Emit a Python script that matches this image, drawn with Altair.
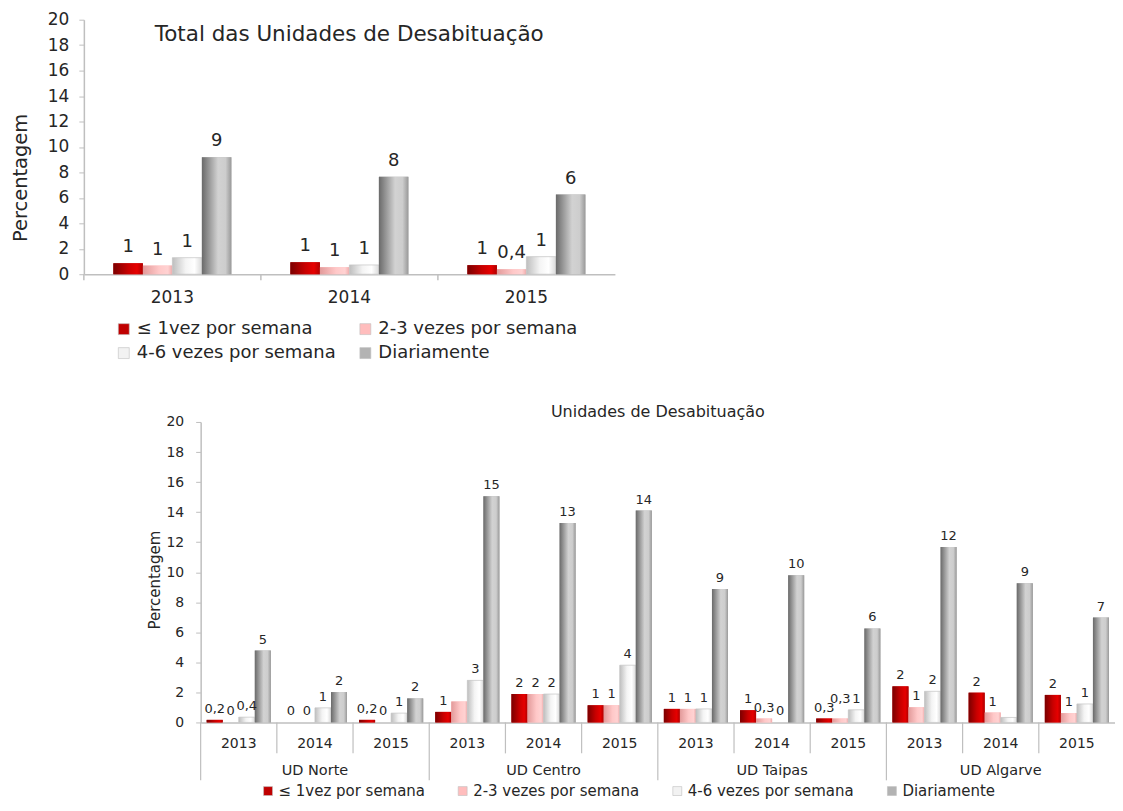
import altair as alt
import pandas as pd

series = ["≤ 1vez por semana", "2-3 vezes por semana", "4-6 vezes por semana", "Diariamente"]
years = ["2013", "2014", "2015"]
uds = ["UD Norte", "UD Centro", "UD Taipas", "UD Algarve"]

# Total das Unidades de Desabituação (2013, 2014, 2015)
tot_le1 = [0.86, 0.94, 0.71]
tot_23 = [0.68, 0.55, 0.39]
tot_46 = [1.30, 0.73, 1.38]
tot_dia = [9.20, 7.65, 6.26]
tot_le1_lbl = ["1", "1", "1"]
tot_23_lbl = ["1", "1", "0,4"]
tot_46_lbl = ["1", "1", "1"]
tot_dia_lbl = ["9", "8", "6"]

# Per UD: Norte 2013-2015, Centro 2013-2015, Taipas 2013-2015, Algarve 2013-2015
ud_le1 = [0.17, 0.0, 0.17, 0.70, 1.89, 1.14, 0.90, 0.81, 0.26, 2.40, 1.98, 1.83]
ud_23 = [0.0, 0.0, 0.0, 1.39, 1.89, 1.14, 0.90, 0.26, 0.26, 1.01, 0.66, 0.62]
ud_46 = [0.35, 0.97, 0.62, 2.80, 1.89, 3.81, 0.90, 0.0, 0.84, 2.07, 0.33, 1.23]
ud_dia = [4.78, 2.02, 1.60, 15.05, 13.27, 14.10, 8.88, 9.79, 6.26, 11.68, 9.26, 6.98]
ud_le1_lbl = ["0,2", "0", "0,2", "1", "2", "1", "1", "1", "0,3", "2", "2", "2"]
ud_23_lbl = ["0", "0", "0", "", "2", "1", "1", "0,3", "0,3", "1", "1", "1"]
ud_46_lbl = ["0,4", "1", "1", "3", "2", "4", "1", "0", "1", "2", "", "1"]
ud_dia_lbl = ["5", "2", "2", "15", "13", "14", "9", "10", "6", "12", "9", "7"]

top_title = "Total das Unidades de Desabituação"
bottom_title = "Unidades de Desabituação"
y_title = "Percentagem"

FONT = "DejaVu Sans"
TXT = "#262626"
AXC = "#BFBFBF"
solid = ["#C00000", "#FFBDBD", "#F2F2F2", "#B3B3B3"]
grad_stops = [
    [(0, "#7A0000"), (0.5, "#C80000"), (0.8, "#E60000"), (1, "#B00000")],
    [(0, "#E29A9A"), (0.55, "#FFC8C8"), (0.85, "#FFD2D2"), (1, "#F0AAAA")],
    [(0, "#BEBEBE"), (0.45, "#F4F4F4"), (0.75, "#FFFFFF"), (1, "#DADADA")],
    [(0, "#6A6A6A"), (0.55, "#D2D2D2"), (0.8, "#CDCDCD"), (1, "#999999")],
]


def gradient(stops):
    return alt.LinearGradient(
        gradient="linear", x1=0, x2=1, y1=0, y2=0,
        stops=[alt.GradientStop(offset=o, color=c) for o, c in stops],
    )


# ---------------- data tables ----------------
top_vals = [tot_le1, tot_23, tot_46, tot_dia]
top_lbls = [tot_le1_lbl, tot_23_lbl, tot_46_lbl, tot_dia_lbl]
rows = []
for si, s in enumerate(series):
    for yi, yr in enumerate(years):
        rows.append({"year": yr, "series": s, "value": top_vals[si][yi], "label": top_lbls[si][yi]})
top_df = pd.DataFrame(rows)
years_df = pd.DataFrame({"year": years})

keys = [f"{u}|{yr}" for u in uds for yr in years]
ud_vals = [ud_le1, ud_23, ud_46, ud_dia]
ud_lbls = [ud_le1_lbl, ud_23_lbl, ud_46_lbl, ud_dia_lbl]
rows = []
for si, s in enumerate(series):
    for ui, u in enumerate(uds):
        for yi, yr in enumerate(years):
            k = ui * 3 + yi
            rows.append({"key": f"{u}|{yr}", "ud": u, "year": yr, "series": s,
                         "value": ud_vals[si][k], "label": ud_lbls[si][k]})
ud_df = pd.DataFrame(rows)
sep_df = pd.DataFrame({"key": keys, "year": [k.split("|")[1] for k in keys]})
udname_df = pd.DataFrame({"key": [f"{u}|2014" for u in uds], "ud": uds})

# ---------------- top chart ----------------
W1, H1 = 532, 255
sx1 = alt.Scale(domain=years, paddingInner=0, paddingOuter=0)
x1_axis = alt.Axis(title=None, labelAngle=0, labelFontSize=17, labelPadding=15, ticks=False,
                   tickSize=0, domainColor=AXC, domainWidth=1.5, labelColor=TXT)
x1 = alt.X("year:N", sort=years, scale=sx1, axis=x1_axis)
xo1 = alt.XOffset("series:N", sort=series, scale=alt.Scale(domain=series, paddingInner=0, paddingOuter=1))
y1 = alt.Y("value:Q", scale=alt.Scale(domain=[0, 20]),
           axis=alt.Axis(values=list(range(0, 21, 2)), title=y_title, titleFontSize=19.5,
                         titleFontWeight="normal", titleColor=TXT, titleX=-53, titleY=158,
                         titleAngle=270, titleAlign="center", titleBaseline="bottom",
                         labelFontSize=17, labelPadding=10, tickSize=5, tickColor=AXC,
                         domainColor=AXC, domainWidth=1.5, grid=False, labelColor=TXT))

legend1 = alt.Legend(title=None, orient="none", legendX=31, legendY=301, direction="horizontal",
                     columns=2, symbolType="square", symbolSize=120, labelFontSize=18,
                     labelColor=TXT, columnPadding=20, rowPadding=6, labelOffset=4,
                     symbolStrokeColor="#BFBFBF", symbolStrokeWidth=0.6, labelLimit=400)

base1 = alt.Chart(top_df).mark_bar().encode(
    x=x1, xOffset=xo1, y=y1,
    color=alt.Color("series:N", sort=series, scale=alt.Scale(domain=series, range=solid), legend=legend1),
)
layers1 = [base1]
for i, s in enumerate(series):
    mk = dict(color=gradient(grad_stops[i]))
    if i == 2:
        mk.update(stroke="#C4C4C4", strokeWidth=0.7)
    layers1.append(
        alt.Chart(top_df).transform_filter((alt.datum.series == s) & (alt.datum.value > 0))
        .mark_bar(**mk).encode(x=x1, xOffset=xo1, y=y1)
    )
text1 = alt.Chart(top_df).mark_text(baseline="bottom", dy=-7, fontSize=18, color=TXT).encode(
    x=x1, xOffset=xo1, y=y1, text="label:N")
sep1 = alt.Chart(years_df).mark_rule(color=AXC, strokeWidth=1.5).encode(
    x=alt.X("year:N", sort=years, scale=sx1, bandPosition=0),
    y=alt.value(H1), y2=alt.value(H1 + 6))
title1 = alt.Chart(pd.DataFrame({"t": [top_title]})).mark_text(
    align="left", baseline="middle", fontSize=21.5, color=TXT).encode(
    x=alt.value(71), y=alt.value(15), text="t:N")

top = alt.layer(*layers1, text1, sep1, title1).properties(width=W1, height=H1)

# ---------------- bottom chart ----------------
W2, H2 = 916, 301
sx2 = alt.Scale(domain=keys, paddingInner=0, paddingOuter=0)
x2_axis = alt.Axis(title=None, labelExpr="split(datum.label, '|')[1]", labelAngle=0, labelFontSize=14,
                   labelPadding=14, ticks=False, tickSize=0, domainColor=AXC, domainWidth=1.5,
                   labelColor=TXT)
x2 = alt.X("key:N", sort=keys, scale=sx2, axis=x2_axis)
xo2 = alt.XOffset("series:N", sort=series, scale=alt.Scale(domain=series, paddingInner=0, paddingOuter=0.375))
y2 = alt.Y("value:Q", scale=alt.Scale(domain=[0, 20]),
           axis=alt.Axis(values=list(range(0, 21, 2)), title=y_title, titleFontSize=15,
                         titleFontWeight="normal", titleColor=TXT, titleX=-38, titleY=158,
                         titleAngle=270, titleAlign="center", titleBaseline="bottom",
                         labelFontSize=14, labelPadding=12, tickSize=5, tickColor=AXC,
                         domainColor=AXC, domainWidth=1.5, grid=False, labelColor=TXT))

legend2 = alt.Legend(title=None, orient="none", legendX=177, legendY=362, direction="horizontal",
                     columns=4, symbolType="square", symbolSize=80, labelFontSize=15,
                     labelColor=TXT, columnPadding=30, labelOffset=3,
                     symbolStrokeColor="#BFBFBF", symbolStrokeWidth=0.6, labelLimit=400)

base2 = alt.Chart(ud_df).mark_bar().encode(
    x=x2, xOffset=xo2, y=y2,
    color=alt.Color("series:N", sort=series, scale=alt.Scale(domain=series, range=solid), legend=legend2),
)
layers2 = [base2]
for i, s in enumerate(series):
    mk = dict(color=gradient(grad_stops[i]))
    if i == 2:
        mk.update(stroke="#C4C4C4", strokeWidth=0.7)
    layers2.append(
        alt.Chart(ud_df).transform_filter((alt.datum.series == s) & (alt.datum.value > 0))
        .mark_bar(**mk).encode(x=x2, xOffset=xo2, y=y2)
    )
# the label of the pink bar of UD Taipas 2015 sits a little higher, as in the original
raised = (alt.datum.key == "UD Taipas|2015") & (alt.datum.series == series[1])
text2 = alt.Chart(ud_df).transform_filter(~raised).mark_text(
    baseline="bottom", dy=-4, fontSize=13, color=TXT).encode(
    x=x2, xOffset=xo2, y=y2, text="label:N")
text2b = alt.Chart(ud_df).transform_filter(raised).mark_text(
    baseline="bottom", dy=-13, fontSize=13, color=TXT).encode(
    x=x2, xOffset=xo2, y=y2, text="label:N")
sep_short = alt.Chart(sep_df).transform_filter(alt.datum.year != "2013").mark_rule(
    color=AXC, strokeWidth=1.2).encode(
    x=alt.X("key:N", sort=keys, scale=sx2, bandPosition=0),
    y=alt.value(H2), y2=alt.value(H2 + 31))
sep_long = alt.Chart(sep_df).transform_filter(alt.datum.year == "2013").mark_rule(
    color=AXC, strokeWidth=1.2).encode(
    x=alt.X("key:N", sort=keys, scale=sx2, bandPosition=0),
    y=alt.value(H2), y2=alt.value(H2 + 58))
udnames = alt.Chart(udname_df).mark_text(baseline="middle", fontSize=14.5, color=TXT).encode(
    x=alt.X("key:N", sort=keys, scale=sx2), y=alt.value(H2 + 49), text="ud:N")

bottom = alt.layer(*layers2, text2, text2b, sep_short, sep_long, udnames).properties(
    width=W2, height=H2,
    title=alt.TitleParams(bottom_title, fontSize=16, fontWeight="normal", color=TXT, anchor="middle", offset=-5),
)

spacer = alt.Chart(pd.DataFrame({"v": [0]})).mark_rule(color="white", strokeWidth=1).encode(
    x=alt.value(0), x2=alt.value(63), y=alt.value(0)).properties(width=63, height=10)

chart = (
    alt.vconcat(top, alt.hconcat(spacer, bottom, spacing=0), spacing=42)
    .resolve_scale(color="independent", x="independent", y="independent", xOffset="independent")
    .resolve_legend(color="independent")
    .properties(padding={"left": 3, "top": 2, "right": 0, "bottom": 0}, background="white")
    .configure(font=FONT)
    .configure_view(stroke=None)
)

chart.save("out.html", embed_options={"renderer": "svg", "actions": False})
